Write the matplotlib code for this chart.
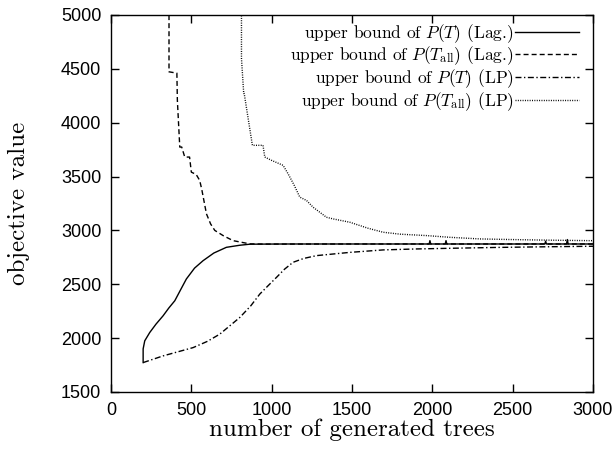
import numpy as np
import matplotlib
matplotlib.use("Agg")
import matplotlib.pyplot as plt

# upper bound of P(T) (Lag.)
lag_x = [200, 200, 210, 241, 280, 324, 360, 397, 430, 469, 520, 573, 640, 718, 800, 864,
         950, 1100, 1500, 1980, 1985, 1990, 2080, 2085, 2090, 2500, 2700, 2705, 2710,
         2835, 2840, 2845, 3000]
lag_y = [1773, 1900, 1975, 2052, 2130, 2207, 2280, 2347, 2440, 2549, 2650, 2719, 2790, 2843,
         2862, 2872, 2873, 2874, 2874, 2874, 2905, 2874, 2874, 2905, 2874, 2874, 2874, 2900,
         2874, 2874, 2915, 2874, 2874]

# upper bound of P(T_all) (Lag.)
lagall_x = [361, 361, 363, 410, 413, 428, 440, 459, 489, 500, 530, 552, 565, 594, 620,
            646, 700, 760, 864, 950, 1500, 2000, 2500, 3000]
lagall_y = [5600, 4472, 4472, 4460, 4209, 3774, 3774, 3681, 3681, 3541, 3520, 3464, 3380,
            3154, 3060, 3000, 2950, 2905, 2875, 2873, 2874, 2874, 2874, 2874]

# upper bound of P(T) (LP)
lp_x = [200, 324, 511, 600, 677, 739, 801, 870, 926, 980, 1030, 1080, 1133, 1200, 1279,
        1486, 1694, 1902, 2109, 2400, 2700, 3000]
lp_y = [1773, 1835, 1912, 1970, 2037, 2114, 2191, 2300, 2409, 2490, 2564, 2640, 2704, 2740,
        2766, 2796, 2819, 2828, 2834, 2842, 2848, 2853]

# upper bound of P(T_all) (LP)
lpall_x = [812, 812, 826, 829, 880, 946, 957, 1000, 1071, 1102, 1140, 1175, 1217, 1258,
           1341, 1382, 1486, 1600, 1694, 1800, 1964, 2109, 2296, 2500, 2700, 2981, 3000]
lpall_y = [5600, 4597, 4271, 4271, 3790, 3790, 3681, 3650, 3604, 3526, 3420, 3309, 3278,
           3215, 3122, 3107, 3076, 3020, 2983, 2965, 2952, 2936, 2921, 2915, 2910, 2905, 2905]

labels = [r"upper bound of $P(T)$ (Lag.)",
          r"upper bound of $P(T_{\rm all})$ (Lag.)",
          r"upper bound of $P(T)$ (LP)",
          r"upper bound of $P(T_{\rm all})$ (LP)"]

plt.rcParams['mathtext.fontset'] = 'cm'
plt.rcParams['axes.unicode_minus'] = False

fig = plt.figure(figsize=(6.16, 4.53), dpi=100)
ax = fig.add_axes([0.1802, 0.1347, 0.7825, 0.8322])

lw = 1.0
ax.plot(lag_x, lag_y, color='black', lw=lw, linestyle='-', label=labels[0])
ax.plot(lagall_x, lagall_y, color='black', lw=lw, linestyle=(0, (3.6, 2.2)), label=labels[1])
ax.plot(lp_x, lp_y, color='black', lw=lw, linestyle=(0, (4.3, 1.8, 1.0, 1.8)), label=labels[2])
ax.plot(lpall_x, lpall_y, color='black', lw=lw, linestyle=(0, (0.7, 1.0)), label=labels[3])

ax.set_xlim(0, 3000)
ax.set_ylim(1500, 5000)
ax.set_xticks(np.arange(0, 3001, 500))
ax.set_yticks(np.arange(1500, 5001, 500))
ax.tick_params(direction='in', length=6, width=1, top=True, right=True, labelsize=13, pad=7)
for lab in ax.get_xticklabels() + ax.get_yticklabels():
    lab.set_family('Liberation Sans')
for s in ax.spines.values():
    s.set_linewidth(1.0)

ax.set_xlabel("number of generated trees", family='cmr10', fontsize=18, labelpad=0)
ax.set_ylabel("objective value", family='cmr10', fontsize=18, labelpad=22)

leg = ax.legend(loc='upper right', frameon=False, markerfirst=False,
                prop={'family': 'cmr10', 'size': 12.5}, handlelength=3.7,
                handletextpad=0.05, labelspacing=0.0, borderaxespad=0.0,
                bbox_to_anchor=(0.985, 1.0))
# right-align entries like gnuplot keys
leg._legend_box.get_children()[1].get_children()[0].align = 'right'

fig.savefig('out.png', dpi=100)
